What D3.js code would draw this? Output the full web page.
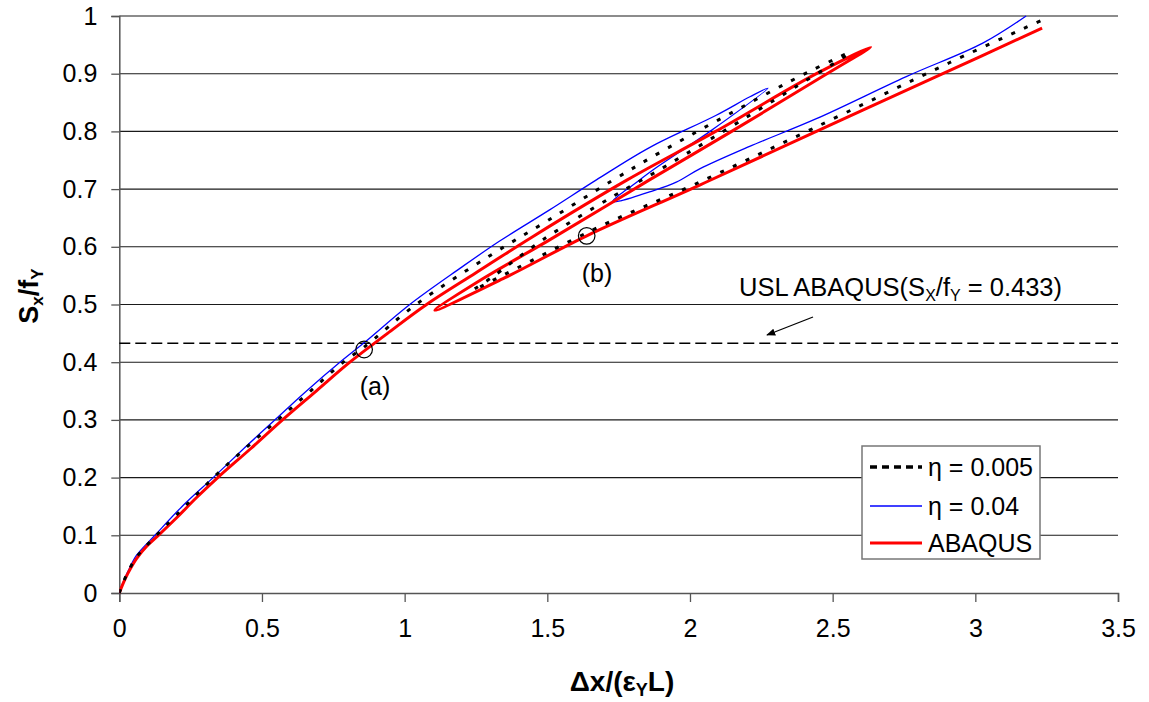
<!DOCTYPE html>
<html><head><meta charset="utf-8">
<script src="https://cdn.jsdelivr.net/npm/d3@7"></script>
<style>body{margin:0;background:#fff}svg{display:block}text{font-family:"Liberation Sans",Arial,sans-serif}</style>
</head><body>
<svg id="c" width="1149" height="702"></svg>
<script>
const xTicks = [0,0.5,1,1.5,2,2.5,3,3.5];
const yTicks = [0,0.1,0.2,0.3,0.4,0.5,0.6,0.7,0.8,0.9,1];
const seriesNames = ["η = 0.005","η = 0.04","ABAQUS"];
const uslValue = 0.433;
// [x, y] points
const eta005 = [[0,0],[0.012,0.016],[0.03,0.036],[0.06,0.062],[0.13,0.1],[0.2,0.135],[0.33,0.2],[0.44,0.25],[0.555,0.3],[0.67,0.35],[0.785,0.4],[0.86,0.427],[1.04,0.5],[1.3,0.585],[1.5,0.645],[1.725,0.714],[1.9,0.765],[2.1,0.82],[2.419,0.904],[2.559,0.936],
  [2.373,0.878],[2.1,0.795],[1.871,0.727],[1.729,0.687],[1.484,0.612],[1.3,0.545],[1.24,0.525],
  [1.322,0.545],[1.683,0.635],[2.011,0.707],[2.431,0.805],[2.909,0.919],[3.234,0.993]];
const eta04 = [[0,0],[0.012,0.017],[0.03,0.037],[0.06,0.065],[0.125,0.1],[0.22,0.15],[0.329,0.2],[0.44,0.252],[0.545,0.3],[0.66,0.352],[0.773,0.4],[0.861,0.435],[1.018,0.5],[1.195,0.563],[1.333,0.61],[1.508,0.664],[1.672,0.716],[1.858,0.772],[2.092,0.828],[2.21,0.86],[2.273,0.875],
  [2.07,0.8],[1.87,0.733],[1.8,0.707],[1.753,0.69],[1.728,0.678],
  [1.76,0.68],[1.858,0.695],[1.952,0.712],[2.034,0.735],[2.209,0.774],[2.443,0.822],[2.758,0.895],[3.026,0.953],[3.178,1.0]];
const abaqus = [[0,0],[0.012,0.015],[0.03,0.034],[0.061,0.06],[0.096,0.081],[0.137,0.1],[0.2,0.13],[0.27,0.165],[0.345,0.2],[0.46,0.25],[0.572,0.3],[0.69,0.35],[0.808,0.4],[0.94,0.45],[1.077,0.5],[1.25,0.555],[1.45,0.618],[1.78,0.716],[2.09,0.8],[2.443,0.9],[2.633,0.946],
  [2.48,0.9],[2.146,0.8],[1.858,0.716],[1.508,0.612],[1.275,0.545],[1.106,0.49],
  [1.35,0.546],[1.638,0.619],[2.034,0.707],[2.443,0.8],[2.886,0.9],[3.234,0.979]];

const svg = d3.select("#c");
const x = d3.scaleLinear().domain([0,3.5]).range([119.3,1118]);
const y = d3.scaleLinear().domain([0,1]).range([593,16]);

// gridlines
svg.append("g").selectAll("line").data(yTicks.slice(1)).join("line")
  .attr("x1",x(0)).attr("x2",x(3.5)).attr("y1",d=>y(d)).attr("y2",d=>y(d))
  .attr("stroke","#1a1a1a").attr("stroke-width",1.1);

// axes
const fmt = d=>String(d);
const gx = svg.append("g").attr("transform",`translate(0,${y(0)})`)
  .call(d3.axisBottom(x).tickValues(xTicks).tickFormat(fmt).tickSize(9).tickPadding(17));
const gy = svg.append("g").attr("transform",`translate(${x(0)},0)`)
  .call(d3.axisLeft(y).tickValues(yTicks).tickFormat(fmt).tickSize(8).tickPadding(14));
[gx,gy].forEach(g=>{
  g.select(".domain").attr("stroke","#555").attr("stroke-width",1.5);
  g.selectAll(".tick line").attr("stroke","#555").attr("stroke-width",1.3);
  g.selectAll(".tick text").attr("font-size",25).attr("fill","#000").attr("font-family","Liberation Sans, Arial, sans-serif");
});

// clip
svg.append("clipPath").attr("id","pc").append("rect")
  .attr("x",x(0)).attr("y",y(1)-1).attr("width",x(3.5)-x(0)).attr("height",y(0)-y(1)+2);

// USL line
svg.append("line").attr("x1",x(0)).attr("x2",x(3.5)).attr("y1",y(uslValue)).attr("y2",y(uslValue))
  .attr("stroke","#000").attr("stroke-width",1.5).attr("stroke-dasharray","11,5");

const line = d3.line().x(d=>x(d[0])).y(d=>y(d[1])).curve(d3.curveCatmullRom.alpha(0.5));
const pg = svg.append("g").attr("clip-path","url(#pc)");
pg.append("path").datum(eta04).attr("d",line).attr("fill","none").attr("stroke","#0000ff").attr("stroke-width",1.3);
pg.append("path").datum(abaqus).attr("d",line).attr("fill","none").attr("stroke","#ff0000").attr("stroke-width",3).attr("stroke-linejoin","round");
pg.append("path").datum(eta005).attr("d",line).attr("fill","none").attr("stroke","#000").attr("stroke-width",3).attr("stroke-dasharray","4,10");

// circles and labels
[[0.858,0.422],[1.638,0.619]].forEach(p=>{
  svg.append("circle").attr("cx",x(p[0])).attr("cy",y(p[1])).attr("r",8.3)
    .attr("fill","none").attr("stroke","#000").attr("stroke-width",1.2);
});
svg.append("text").attr("x",375).attr("y",395).attr("text-anchor","middle").attr("font-size",25).text("(a)");
svg.append("text").attr("x",597).attr("y",282).attr("text-anchor","middle").attr("font-size",25).text("(b)");

// annotation
const usl = svg.append("text").attr("x",739).attr("y",296).attr("font-size",25.5);
usl.append("tspan").text("USL ABAQUS(S");
usl.append("tspan").attr("font-size",16).attr("dy",5).text("X");
usl.append("tspan").attr("dy",-5).text("/f");
usl.append("tspan").attr("font-size",16).attr("dy",5).text("Y");
usl.append("tspan").attr("dy",-5).text(" = 0.433)");

svg.append("defs").append("marker").attr("id","ah").attr("viewBox","0 0 10 10").attr("refX",9).attr("refY",5)
  .attr("markerWidth",7).attr("markerHeight",7).attr("orient","auto")
  .append("path").attr("d","M0,1 L10,5 L0,9 z").attr("fill","#000");
svg.append("line").attr("x1",813).attr("y1",317).attr("x2",767).attr("y2",335)
  .attr("stroke","#000").attr("stroke-width",1.3).attr("marker-end","url(#ah)");

// axis titles
const xt = svg.append("text").attr("x",622).attr("y",691).attr("text-anchor","middle").attr("font-size",28).attr("font-weight","bold");
xt.append("tspan").text("Δx/(ε");
xt.append("tspan").attr("font-size",18).attr("dy",5).text("Y");
xt.append("tspan").attr("dy",-5).text("L)");
const yt = svg.append("text").attr("transform","translate(38,296) rotate(-90)").attr("text-anchor","middle").attr("font-size",27).attr("font-weight","bold");
yt.append("tspan").text("S");
yt.append("tspan").attr("font-size",17).attr("dy",5).text("x");
yt.append("tspan").attr("dy",-5).text("/f");
yt.append("tspan").attr("font-size",17).attr("dy",5).text("Y");

// legend
const lg = svg.append("g");
lg.append("rect").attr("x",862).attr("y",446).attr("width",178).attr("height",113)
  .attr("fill","#fff").attr("stroke","#777").attr("stroke-width",1.5);
const styles = [{c:"#000",w:3.5,da:"7,5"},{c:"#0000ff",w:1.3,da:null},{c:"#ff0000",w:3,da:null}];
const ly = [467,506,543];
seriesNames.forEach((n,i)=>{
  const l = lg.append("line").attr("x1",870).attr("x2",922).attr("y1",ly[i]).attr("y2",ly[i])
    .attr("stroke",styles[i].c).attr("stroke-width",styles[i].w);
  if(styles[i].da) l.attr("stroke-dasharray",styles[i].da);
  lg.append("text").attr("x",928).attr("y",ly[i]+9).attr("font-size",25).text(n);
});
</script>
</body></html>
